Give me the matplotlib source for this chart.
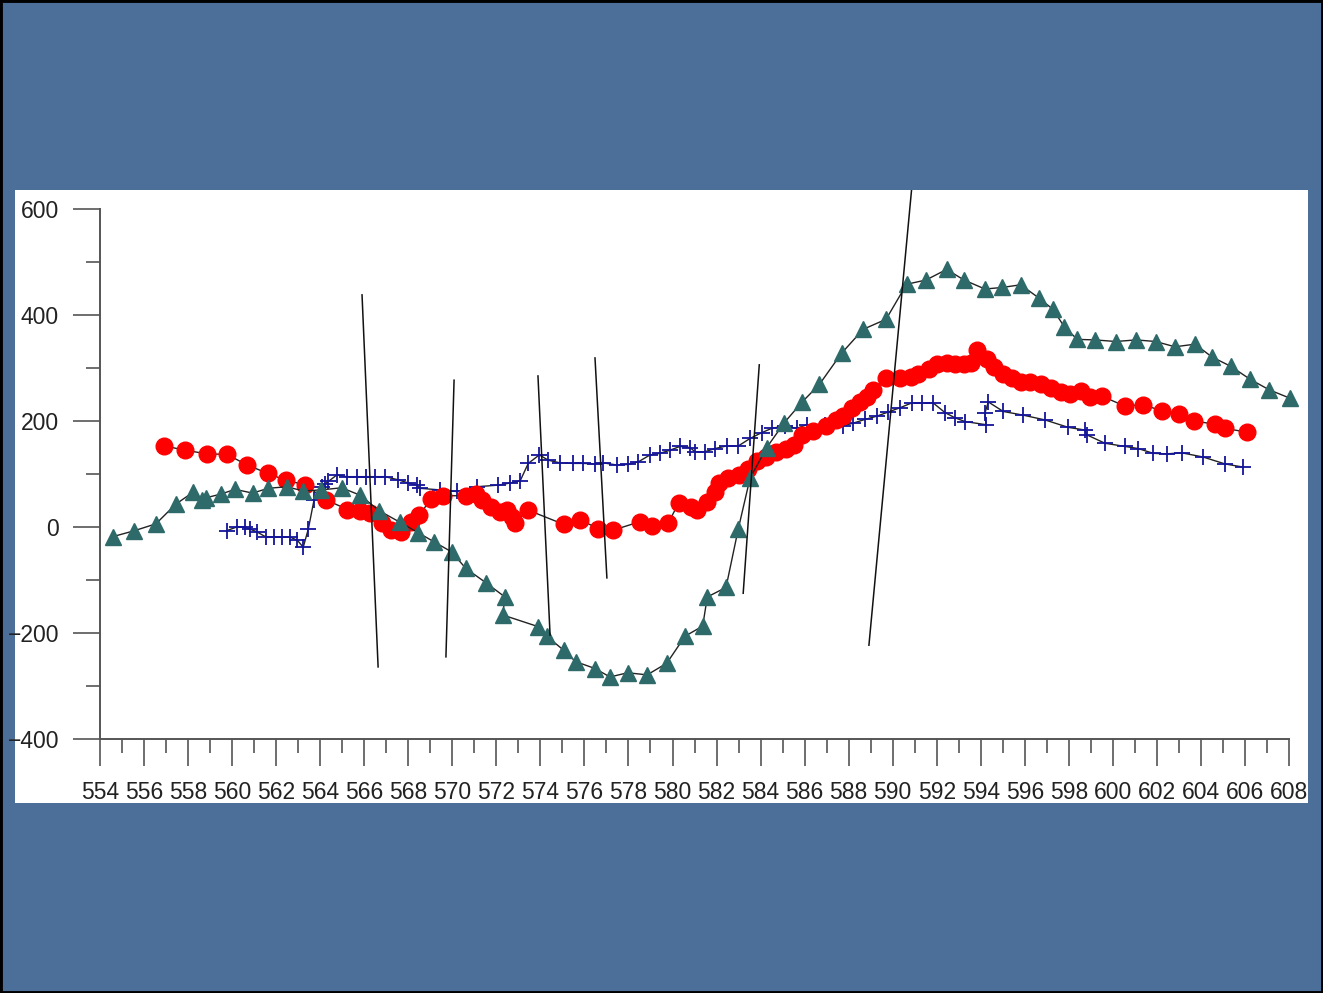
import matplotlib
matplotlib.use("Agg")
import matplotlib.pyplot as plt
from matplotlib.patches import Rectangle

plt.rcParams['font.family'] = ['Liberation Sans', 'DejaVu Sans']

# triangle series
tri_x = [554.60, 555.56, 556.54, 557.44, 558.24, 558.62, 558.80, 559.48, 560.13, 560.93,
         561.64, 562.49, 563.22, 564.04, 564.98, 565.81, 566.67, 567.62, 568.46, 569.17,
         569.97, 570.61, 571.52, 572.39, 572.29, 573.90, 574.29, 575.07, 575.60, 576.48,
         577.16, 577.96, 578.85, 579.74, 580.57, 581.37, 581.58, 582.43, 582.99, 583.52,
         584.28, 585.08, 585.89, 586.67, 587.68, 588.66, 589.70, 590.63, 591.51, 592.45,
         593.24, 594.19, 594.98, 595.81, 596.64, 597.27, 597.79, 598.38, 599.19, 600.13,
         601.05, 601.94, 602.82, 603.73, 604.49, 605.36, 606.22, 607.09, 608.04]
tri_y = [-18, -7, 6, 43, 66, 51, 55, 62, 71, 64,
         73, 76, 68, 70, 74, 60, 31, 9, -11, -28,
         -47, -78, -105, -132, -166, -188, -206, -233, -254, -267,
         -283, -275, -279, -257, -206, -187, -132, -114, -3, 92,
         150, 197, 236, 269, 328, 373, 392, 458, 466, 486,
         466, 449, 452, 457, 432, 411, 378, 354, 353, 350,
         353, 350, 340, 345, 321, 303, 279, 259, 243]

# cross series
plus_x = [559.75, 560.21, 560.58, 560.81, 561.12, 561.54, 561.90, 562.25, 562.63, 562.96,
          563.23, 563.46, 563.72, 564.07, 564.22, 564.37, 564.75, 565.20, 565.66, 566.08,
          566.49, 566.94, 567.55, 568.00, 568.38, 568.53, 569.44, 570.20, 571.11, 572.09,
          572.62, 573.08, 573.45, 573.95, 574.36, 574.89, 575.49, 575.95, 576.48, 576.86,
          577.47, 577.99, 578.45, 578.98, 579.43, 579.89, 580.34, 580.79, 581.02, 581.47,
          581.93, 582.46, 582.99, 583.52, 584.05, 584.50, 585.11, 585.64, 586.09, 586.92,
          587.76, 588.21, 588.74, 589.27, 589.80, 590.33, 590.86, 591.31, 591.84, 592.37,
          592.83, 593.28, 594.24, 594.19, 594.34, 595.02, 595.93, 596.92, 597.97, 598.73,
          598.81, 599.64, 600.55, 601.15, 601.83, 602.44, 603.12, 604.10, 605.09, 605.92]
plus_y = [-7, 0, 0, -4, -9, -19, -19, -19, -19, -25,
          -38, -4, 51, 76, 81, 86, 98, 95, 95, 95,
          95, 95, 89, 83, 79, 73, 70, 67, 76, 79,
          83, 87, 120, 136, 126, 121, 120, 120, 119, 121,
          117, 118, 123, 136, 139, 145, 152, 150, 142, 142,
          148, 153, 153, 167, 178, 186, 191, 186, 193, 193,
          191, 196, 203, 209, 217, 225, 234, 234, 234, 216,
          206, 199, 193, 215, 236, 218, 211, 202, 188, 183,
          174, 158, 152, 148, 139, 138, 140, 132, 119, 113]

# circle series
dot_x = [556.91, 557.86, 558.85, 559.77, 560.68, 561.63, 562.45, 563.29, 564.28, 565.24,
         565.81, 566.28, 566.79, 567.22, 567.65, 568.11, 568.48, 569.03, 569.59, 570.62,
         571.08, 571.33, 571.77, 572.17, 572.49, 572.70, 572.85, 573.43, 575.06, 575.80,
         576.61, 577.30, 578.52, 579.09, 579.81, 580.29, 580.84, 581.10, 581.55, 581.93,
         582.11, 582.53, 583.02, 583.43, 583.84, 584.24, 584.70, 585.15, 585.52, 585.87,
         586.39, 586.97, 587.42, 587.76, 588.15, 588.51, 588.83, 589.12, 589.70, 590.33,
         590.83, 591.15, 591.65, 592.01, 592.47, 592.83, 593.24, 593.56, 593.85, 594.27,
         594.60, 595.03, 595.42, 595.83, 596.23, 596.73, 597.19, 597.64, 598.05, 598.55,
         598.96, 599.49, 600.55, 601.38, 602.22, 603.00, 603.68, 604.64, 605.09, 606.09]
dot_y = [153, 145, 138, 137, 117, 101, 88, 80, 51, 33,
         31, 26, 7, -5, -9, 9, 22, 52, 59, 59,
         62, 51, 37, 29, 32, 19, 7, 32, 5, 14,
         -3, -6, 10, 1, 8, 46, 38, 32, 47, 66,
         83, 92, 98, 109, 125, 132, 141, 148, 155, 173,
         181, 190, 202, 209, 225, 236, 245, 259, 282, 281,
         283, 288, 298, 308, 309, 307, 307, 310, 334, 317,
         302, 289, 282, 274, 273, 270, 263, 255, 251, 257,
         245, 247, 228, 231, 219, 214, 200, 194, 186, 179]

# slanted segments (x0, y0) -> (x1, y1)
seg_x0 = [565.90, 570.08, 573.89, 576.48, 583.94, 591.00]
seg_y0 = [438, 277, 285, 319, 306, 700]
seg_x1 = [566.63, 569.71, 574.44, 577.02, 583.21, 588.92]
seg_y1 = [-264, -245, -204, -96, -125, -223]

W, H = 1323, 993
fig = plt.figure(figsize=(W / 100, H / 100), dpi=100, facecolor='#4b6f99')

# white panel holding the chart
ax = fig.add_axes([15 / W, (H - 803) / H, 1293 / W, 613 / H])
ax.set_facecolor('white')
ax.set_xlim(550.14, 608.86)
ax.set_ylim(-520.75, 635.85)

ax.plot(plus_x, plus_y, color='#222222', lw=1.0, marker='+', ms=12,
        mec='#14149a', mew=1.3, zorder=3)
ax.plot(dot_x, dot_y, color='#222222', lw=1.0, marker='o', ms=12,
        mfc='#ff0000', mec='#ff0000', zorder=4)
ax.plot(tri_x, tri_y, color='#222222', lw=1.0, marker='^', ms=11,
        mfc='#2e6a6a', mec='#2e6a6a', zorder=5)
for x0, y0, x1, y1 in zip(seg_x0, seg_y0, seg_x1, seg_y1):
    ax.plot([x0, x1], [y0, y1], color='#111111', lw=1.1, zorder=6)

for s in ['top', 'right']:
    ax.spines[s].set_visible(False)
ax.spines['left'].set_position(('data', 554))
ax.spines['left'].set_bounds(-400, 600)
ax.spines['bottom'].set_position(('data', -400))
ax.spines['bottom'].set_bounds(554, 608)
for s in ['left', 'bottom']:
    ax.spines[s].set_color('#555555')
    ax.spines[s].set_linewidth(1.4)

ax.set_yticks([-400, -200, 0, 200, 400, 600])
ax.set_yticks([-300, -100, 100, 300, 500], minor=True)
ax.set_xticks(range(554, 609, 2))
ax.set_xticks(range(555, 608, 2), minor=True)
ax.tick_params(which='major', direction='out', length=19.5, width=1.2,
               color='#555555', labelsize=16.5, labelcolor='#222222')
ax.tick_params(which='minor', direction='out', length=10, width=1.2, color='#555555')
ax.tick_params(axis='y', which='major', pad=10)
ax.tick_params(axis='x', which='major', pad=11)

# slide border
fig.patches.append(Rectangle((0, 0), 1, 1, transform=fig.transFigure, fill=False,
                             edgecolor='black', lw=3.5))

fig.savefig('out.png', dpi=100, facecolor=fig.get_facecolor())
